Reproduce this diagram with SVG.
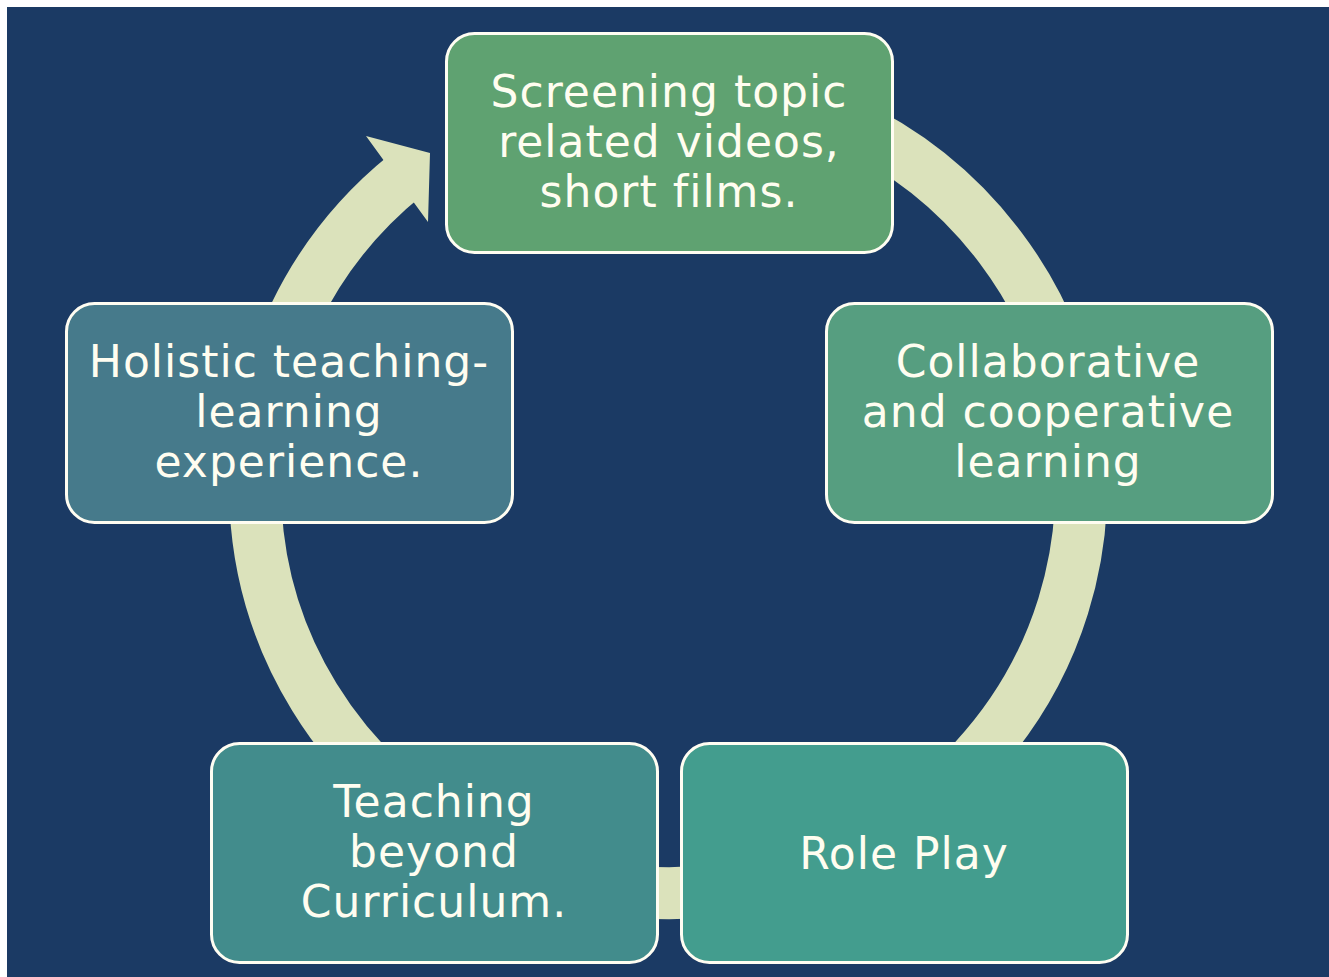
<svg xmlns="http://www.w3.org/2000/svg" width="1329" height="977" viewBox="0 0 1329 977">
<style>
.box{stroke:#FFFDF2;stroke-width:3}
.lbl{font-family:"DejaVu Sans","Liberation Sans",sans-serif;font-size:44px;letter-spacing:1px;fill:#FFFDF0;text-anchor:middle}
.ring{fill:none;stroke:#DBE2BB;stroke-width:52}
</style>
<rect x="0" y="0" width="1329" height="977" fill="#FFFFFF"/>
<rect x="7" y="7" width="1322" height="970" fill="#1B3A64"/>
<g id="connectors">
<path class="ring" d="M 669 83 A 413 405 0 1 1 406 175"/>
<polygon points="382,158 366,136 430,153 428,222 412,200" fill="#DBE2BB"/>
</g>
<g id="node-screening">
<rect class="box" x="446.5" y="33.5" width="446" height="219" rx="28" fill="#5FA271"/>
<text class="lbl" x="669" y="107">Screening topic</text>
<text class="lbl" x="669" y="157">related videos,</text>
<text class="lbl" x="669" y="207">short films.</text>
</g>
<g id="node-collaborative">
<rect class="box" x="826.5" y="303.5" width="446" height="219" rx="28" fill="#569E80"/>
<text class="lbl" x="1048" y="377">Collaborative</text>
<text class="lbl" x="1048" y="427">and cooperative</text>
<text class="lbl" x="1048" y="477">learning</text>
</g>
<g id="node-roleplay">
<rect class="box" x="681.5" y="743.5" width="446" height="219" rx="28" fill="#439D8E"/>
<text class="lbl" x="904" y="869">Role Play</text>
</g>
<g id="node-beyond">
<rect class="box" x="211.5" y="743.5" width="446" height="219" rx="28" fill="#428C8C"/>
<text class="lbl" x="434" y="817">Teaching</text>
<text class="lbl" x="434" y="867">beyond</text>
<text class="lbl" x="434" y="917">Curriculum.</text>
</g>
<g id="node-holistic">
<rect class="box" x="66.5" y="303.5" width="446" height="219" rx="28" fill="#467A8B"/>
<text class="lbl" x="289" y="377">Holistic teaching-</text>
<text class="lbl" x="289" y="427">learning</text>
<text class="lbl" x="289" y="477">experience.</text>
</g>
</svg>
